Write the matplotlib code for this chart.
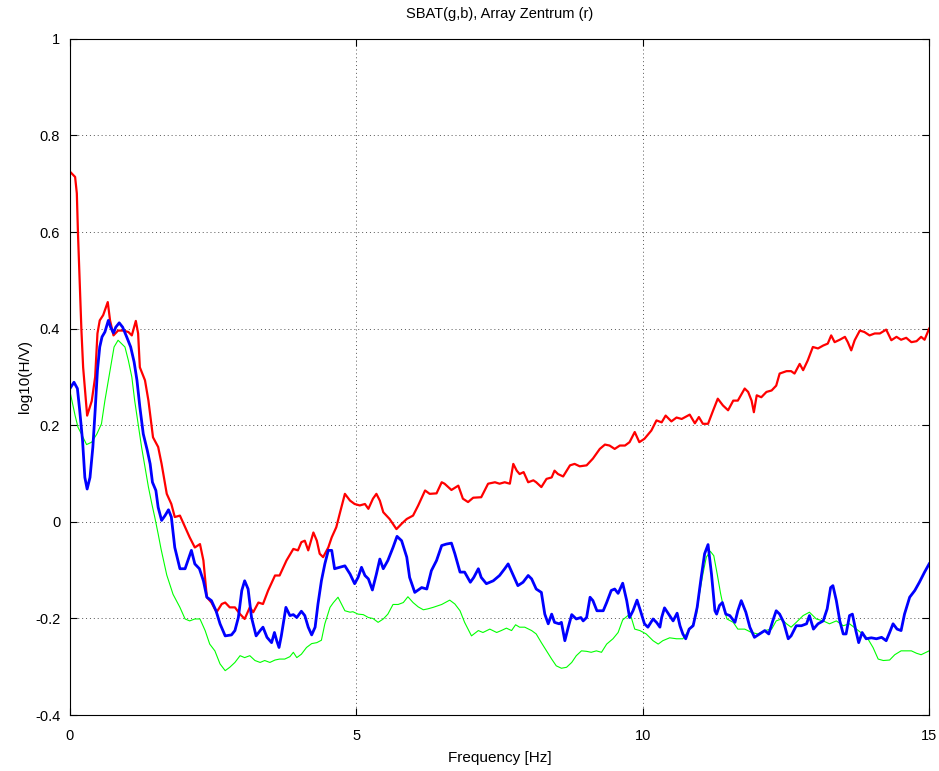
import numpy as np
import matplotlib.pyplot as plt

# Array Zentrum (red)
freq_r = [0.0, 0.09, 0.12, 0.14, 0.17, 0.20, 0.23, 0.30, 0.38, 0.44, 0.48, 0.52, 0.58, 0.66, 0.70,
          0.76, 0.84, 0.93, 1.02, 1.08, 1.15, 1.19, 1.22, 1.31, 1.37, 1.45, 1.54, 1.60, 1.69, 1.77,
          1.83, 1.92, 2.01, 2.09, 2.18, 2.27, 2.33, 2.39, 2.47, 2.56, 2.65, 2.71, 2.79, 2.88, 2.97,
          3.05, 3.14, 3.20, 3.29, 3.37, 3.46, 3.58, 3.66, 3.78, 3.90, 3.98, 4.04, 4.10, 4.16, 4.25,
          4.31, 4.36, 4.42, 4.51, 4.57, 4.65, 4.71, 4.80, 4.89, 4.97, 5.06, 5.15, 5.21, 5.29, 5.35,
          5.41, 5.47, 5.58, 5.70, 5.79, 5.88, 5.99, 6.08, 6.20, 6.28, 6.40, 6.49, 6.54, 6.66, 6.78,
          6.86, 6.95, 7.04, 7.18, 7.30, 7.42, 7.50, 7.59, 7.68, 7.74, 7.80, 7.85, 7.92, 8.00, 8.09,
          8.14, 8.23, 8.32, 8.41, 8.46, 8.52, 8.61, 8.73, 8.81, 8.90, 9.02, 9.13, 9.25, 9.34, 9.42,
          9.51, 9.60, 9.69, 9.77, 9.86, 9.94, 10.03, 10.15, 10.24, 10.33, 10.40, 10.50, 10.59, 10.68,
          10.82, 10.91, 10.98, 11.05, 11.14, 11.23, 11.31, 11.40, 11.49, 11.58, 11.66, 11.78, 11.84,
          11.90, 11.94, 11.99, 12.07, 12.16, 12.25, 12.33, 12.39, 12.51, 12.59, 12.65, 12.74, 12.80,
          12.88, 12.97, 13.06, 13.15, 13.23, 13.29, 13.35, 13.44, 13.53, 13.58, 13.64, 13.70, 13.79,
          13.87, 13.96, 14.05, 14.14, 14.25, 14.34, 14.43, 14.51, 14.60, 14.69, 14.78, 14.86, 14.92,
          15.0]
hv_r = [0.725, 0.714, 0.68, 0.597, 0.494, 0.397, 0.32, 0.22, 0.25, 0.30, 0.39, 0.417, 0.428, 0.455,
        0.417, 0.386, 0.396, 0.396, 0.393, 0.386, 0.416, 0.39, 0.32, 0.293, 0.251, 0.175, 0.155, 0.12,
        0.058, 0.037, 0.01, 0.013, -0.011, -0.032, -0.053, -0.046, -0.08, -0.156, -0.167, -0.187,
        -0.17, -0.167, -0.177, -0.177, -0.191, -0.201, -0.177, -0.187, -0.167, -0.17, -0.142, -0.111,
        -0.111, -0.08, -0.056, -0.059, -0.042, -0.039, -0.059, -0.022, -0.039, -0.066, -0.073, -0.053,
        -0.032, -0.011, 0.017, 0.058, 0.044, 0.037, 0.034, 0.037, 0.027, 0.048, 0.058, 0.044, 0.02,
        0.006, -0.015, -0.004, 0.006, 0.013, 0.034, 0.065, 0.058, 0.059, 0.082, 0.079, 0.066, 0.075,
        0.048, 0.041, 0.05, 0.051, 0.079, 0.082, 0.079, 0.082, 0.079, 0.12, 0.106, 0.099, 0.103,
        0.082, 0.086, 0.082, 0.072, 0.089, 0.092, 0.106, 0.099, 0.094, 0.117, 0.12, 0.115, 0.117,
        0.131, 0.151, 0.16, 0.158, 0.151, 0.158, 0.158, 0.165, 0.186, 0.165, 0.172, 0.189, 0.21,
        0.206, 0.22, 0.208, 0.216, 0.213, 0.222, 0.204, 0.217, 0.203, 0.203, 0.231, 0.255, 0.241,
        0.231, 0.251, 0.251, 0.276, 0.269, 0.251, 0.227, 0.262, 0.258, 0.269, 0.272, 0.282, 0.307,
        0.312, 0.312, 0.307, 0.327, 0.314, 0.334, 0.362, 0.359, 0.365, 0.369, 0.386, 0.372, 0.377,
        0.383, 0.372, 0.355, 0.376, 0.396, 0.393, 0.386, 0.39, 0.39, 0.398, 0.376, 0.383, 0.377,
        0.381, 0.372, 0.374, 0.383, 0.377, 0.40]

# SBAT (blue)
freq_b = [0.0, 0.07, 0.13, 0.17, 0.22, 0.26, 0.30, 0.35, 0.40, 0.44, 0.48, 0.52, 0.56, 0.61, 0.67,
          0.71, 0.76, 0.80, 0.86, 0.92, 0.99, 1.06, 1.12, 1.17, 1.22, 1.28, 1.35, 1.40, 1.44, 1.50,
          1.54, 1.60, 1.66, 1.72, 1.77, 1.83, 1.92, 2.01, 2.06, 2.12, 2.18, 2.26, 2.33, 2.39, 2.47,
          2.55, 2.62, 2.71, 2.82, 2.88, 2.94, 3.00, 3.05, 3.11, 3.17, 3.25, 3.32, 3.37, 3.44, 3.52,
          3.57, 3.61, 3.65, 3.69, 3.77, 3.84, 3.90, 3.96, 4.04, 4.10, 4.16, 4.22, 4.28, 4.33, 4.39,
          4.45, 4.51, 4.57, 4.62, 4.71, 4.80, 4.89, 4.97, 5.03, 5.09, 5.15, 5.21, 5.28, 5.35, 5.41,
          5.47, 5.55, 5.64, 5.71, 5.79, 5.88, 5.93, 6.02, 6.14, 6.23, 6.31, 6.40, 6.49, 6.57, 6.66,
          6.72, 6.81, 6.89, 6.99, 7.05, 7.13, 7.18, 7.27, 7.39, 7.50, 7.59, 7.65, 7.74, 7.82, 7.91,
          8.00, 8.06, 8.14, 8.23, 8.29, 8.35, 8.41, 8.46, 8.54, 8.58, 8.64, 8.70, 8.76, 8.84, 8.92,
          8.96, 9.02, 9.08, 9.13, 9.20, 9.31, 9.37, 9.45, 9.51, 9.57, 9.65, 9.72, 9.77, 9.83, 9.90,
          9.96, 10.03, 10.09, 10.18, 10.24, 10.30, 10.33, 10.38, 10.47, 10.53, 10.60, 10.65, 10.70,
          10.75, 10.81, 10.88, 10.95, 11.02, 11.08, 11.14, 11.20, 11.26, 11.29, 11.34, 11.39, 11.45,
          11.52, 11.61, 11.66, 11.72, 11.80, 11.87, 11.95, 12.04, 12.13, 12.20, 12.27, 12.33, 12.39,
          12.46, 12.54, 12.59, 12.68, 12.77, 12.86, 12.91, 12.98, 13.06, 13.15, 13.22, 13.28, 13.32,
          13.38, 13.44, 13.50, 13.55, 13.61, 13.66, 13.72, 13.77, 13.83, 13.90, 13.99, 14.08, 14.17,
          14.25, 14.31, 14.37, 14.44, 14.51, 14.57, 14.66, 14.75, 14.83, 14.92, 15.0]
hv_b = [0.276, 0.289, 0.276, 0.231, 0.168, 0.092, 0.068, 0.092, 0.155, 0.231, 0.314, 0.362, 0.383,
        0.393, 0.417, 0.403, 0.391, 0.403, 0.412, 0.403, 0.383, 0.362, 0.331, 0.293, 0.238, 0.182,
        0.148, 0.12, 0.082, 0.065, 0.03, 0.003, 0.013, 0.025, 0.01, -0.053, -0.097, -0.097, -0.08,
        -0.059, -0.087, -0.097, -0.122, -0.156, -0.163, -0.184, -0.211, -0.236, -0.234, -0.225,
        -0.198, -0.142, -0.122, -0.139, -0.198, -0.236, -0.225, -0.218, -0.239, -0.25, -0.229,
        -0.246, -0.26, -0.236, -0.177, -0.194, -0.192, -0.198, -0.185, -0.194, -0.218, -0.234,
        -0.218, -0.17, -0.122, -0.087, -0.059, -0.059, -0.097, -0.094, -0.091, -0.108, -0.128,
        -0.115, -0.094, -0.111, -0.118, -0.141, -0.108, -0.077, -0.097, -0.08, -0.053, -0.03,
        -0.039, -0.073, -0.115, -0.146, -0.136, -0.139, -0.101, -0.08, -0.049, -0.046, -0.044,
        -0.066, -0.104, -0.104, -0.125, -0.115, -0.097, -0.115, -0.128, -0.122, -0.111, -0.097,
        -0.087, -0.111, -0.132, -0.125, -0.111, -0.118, -0.139, -0.146, -0.191, -0.211, -0.191,
        -0.208, -0.211, -0.208, -0.246, -0.218, -0.192, -0.201, -0.198, -0.205, -0.198, -0.156,
        -0.163, -0.184, -0.184, -0.167, -0.142, -0.139, -0.148, -0.127, -0.163, -0.198, -0.184,
        -0.162, -0.184, -0.211, -0.218, -0.201, -0.208, -0.218, -0.198, -0.178, -0.194, -0.205,
        -0.189, -0.215, -0.232, -0.242, -0.222, -0.215, -0.177, -0.115, -0.066, -0.047, -0.108,
        -0.184, -0.191, -0.173, -0.167, -0.191, -0.194, -0.208, -0.184, -0.163, -0.187, -0.218,
        -0.239, -0.232, -0.225, -0.232, -0.205, -0.184, -0.191, -0.208, -0.242, -0.236, -0.215,
        -0.215, -0.211, -0.194, -0.222, -0.211, -0.205, -0.18, -0.136, -0.132, -0.163, -0.205,
        -0.232, -0.232, -0.194, -0.191, -0.225, -0.25, -0.229, -0.242, -0.24, -0.242, -0.239,
        -0.246, -0.229, -0.211, -0.222, -0.225, -0.191, -0.156, -0.142, -0.125, -0.104, -0.087]

# SBAT (green)
freq_g = [0.0, 0.09, 0.14, 0.20, 0.29, 0.38, 0.47, 0.55, 0.61, 0.70, 0.77, 0.84, 0.90, 0.96, 1.02,
          1.08, 1.13, 1.19, 1.25, 1.31, 1.37, 1.43, 1.48, 1.54, 1.59, 1.69, 1.80, 1.92, 2.01, 2.09,
          2.18, 2.27, 2.36, 2.44, 2.53, 2.62, 2.71, 2.79, 2.88, 2.97, 3.05, 3.14, 3.23, 3.32, 3.40,
          3.49, 3.58, 3.66, 3.75, 3.84, 3.90, 3.96, 4.04, 4.13, 4.22, 4.31, 4.39, 4.45, 4.54, 4.60,
          4.68, 4.74, 4.80, 4.89, 4.94, 5.03, 5.12, 5.21, 5.29, 5.38, 5.47, 5.55, 5.64, 5.73, 5.82,
          5.90, 5.99, 6.08, 6.17, 6.25, 6.34, 6.49, 6.63, 6.72, 6.81, 6.89, 7.01, 7.13, 7.21, 7.33,
          7.45, 7.53, 7.62, 7.71, 7.78, 7.85, 7.94, 8.06, 8.14, 8.23, 8.32, 8.41, 8.49, 8.58, 8.67,
          8.76, 8.84, 8.93, 9.02, 9.10, 9.19, 9.28, 9.37, 9.48, 9.57, 9.65, 9.74, 9.80, 9.86, 9.95,
          10.06, 10.18, 10.27, 10.35, 10.47, 10.59, 10.70, 10.76, 10.82, 10.88, 10.94, 10.99, 11.05,
          11.11, 11.18, 11.24, 11.30, 11.36, 11.41, 11.47, 11.58, 11.66, 11.78, 11.90, 12.01, 12.13,
          12.25, 12.33, 12.42, 12.51, 12.59, 12.68, 12.80, 12.91, 13.03, 13.15, 13.26, 13.38, 13.50,
          13.61, 13.73, 13.84, 13.93, 14.02, 14.11, 14.20, 14.31, 14.40, 14.51, 14.60, 14.69, 14.78,
          14.86, 15.0]
hv_g = [0.27, 0.22, 0.196, 0.182, 0.16, 0.165, 0.182, 0.203, 0.251, 0.314, 0.362, 0.376, 0.369,
        0.362, 0.334, 0.30, 0.251, 0.203, 0.155, 0.113, 0.072, 0.037, 0.01, -0.025, -0.056, -0.11,
        -0.15, -0.177, -0.201, -0.205, -0.201, -0.201, -0.225, -0.253, -0.267, -0.294, -0.308,
        -0.301, -0.291, -0.277, -0.281, -0.277, -0.287, -0.291, -0.287, -0.291, -0.286, -0.284,
        -0.284, -0.279, -0.27, -0.281, -0.274, -0.26, -0.252, -0.25, -0.245, -0.211, -0.177, -0.167,
        -0.156, -0.17, -0.184, -0.187, -0.186, -0.191, -0.192, -0.198, -0.20, -0.208, -0.201,
        -0.191, -0.171, -0.171, -0.167, -0.155, -0.167, -0.176, -0.182, -0.18, -0.177, -0.171,
        -0.162, -0.17, -0.184, -0.208, -0.236, -0.225, -0.229, -0.222, -0.229, -0.225, -0.22,
        -0.225, -0.213, -0.218, -0.218, -0.225, -0.232, -0.25, -0.267, -0.284, -0.298, -0.303,
        -0.301, -0.291, -0.277, -0.267, -0.268, -0.27, -0.267, -0.27, -0.253, -0.242, -0.229,
        -0.203, -0.194, -0.198, -0.222, -0.225, -0.232, -0.246, -0.253, -0.246, -0.24, -0.242,
        -0.242, -0.232, -0.222, -0.211, -0.191, -0.149, -0.108, -0.073, -0.061, -0.07, -0.108,
        -0.149, -0.177, -0.201, -0.208, -0.222, -0.222, -0.229, -0.232, -0.225, -0.222, -0.205,
        -0.201, -0.211, -0.218, -0.208, -0.194, -0.187, -0.201, -0.205, -0.211, -0.205, -0.215,
        -0.211, -0.222, -0.232, -0.242, -0.26, -0.284, -0.287, -0.286, -0.275, -0.267, -0.267,
        -0.267, -0.272, -0.275, -0.267]

plt.rcParams['font.family'] = ['Liberation Sans', 'DejaVu Sans']

fig = plt.figure(figsize=(9.39, 7.71), dpi=100)
ax = fig.add_axes([0.0745, 0.0725, 0.915, 0.8772])

ax.plot(freq_g, hv_g, color='#00ff00', lw=0.8)
ax.plot(freq_r, hv_r, color='#ff0000', lw=1.6)
ax.plot(freq_b, hv_b, color='#0000ff', lw=2.0)

ax.set_xlim(0, 15)
ax.set_ylim(-0.4, 1)
ax.set_xticks([0, 5, 10, 15])
ax.set_xticklabels(['0', '5', '10', '15'])
yt = np.round(np.arange(-0.4, 1.01, 0.2), 1)
ax.set_yticks(yt)
ax.set_yticklabels(['-0.4', '-0.2', '0', '0.2', '0.4', '0.6', '0.8', '1'])
ax.grid(True, color='#555555', linestyle=(0, (1, 3)), linewidth=0.7)
ax.tick_params(direction='in', top=True, right=True, length=5, labelsize=10.5)
ax.tick_params(axis='x', pad=10)
ax.tick_params(axis='y', pad=7)
for s in ax.spines.values():
    s.set_linewidth(0.8)

ax.set_title('SBAT(g,b), Array Zentrum (r)', fontsize=10.5, pad=15)
ax.set_xlabel('Frequency [Hz]', fontsize=11, labelpad=6)
ax.set_ylabel('log10(H/V)', fontsize=11, labelpad=2)

fig.savefig('out.png', dpi=100)
